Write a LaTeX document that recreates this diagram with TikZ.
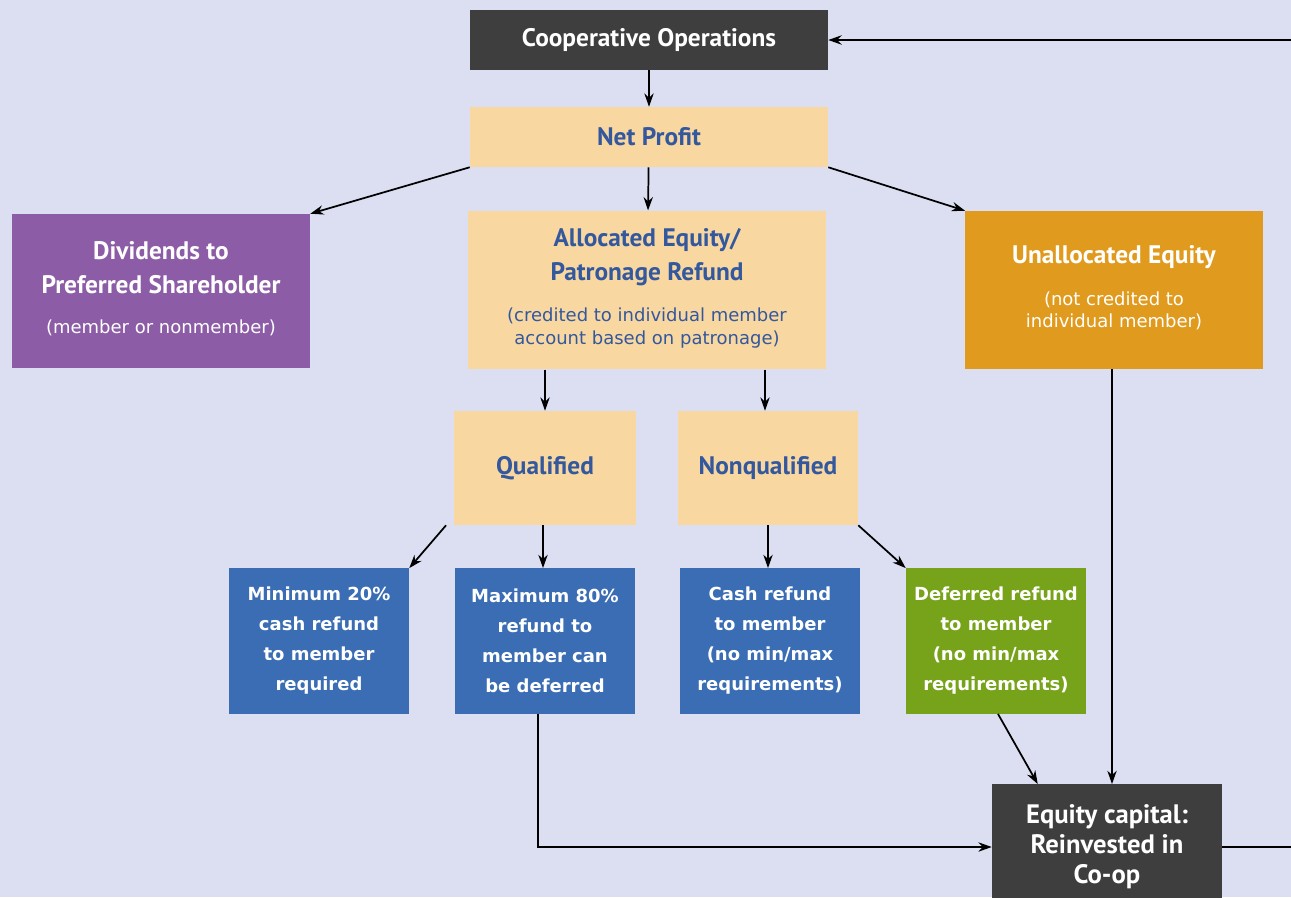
\documentclass[tikz,border=0pt]{standalone}
\usepackage{fontspec}
\setmainfont{PT Sans}
\newfontfamily\widefont{DejaVu Sans}
\usetikzlibrary{arrows.meta}
\definecolor{bgcol}{HTML}{DCDFF1}
\definecolor{opgray}{HTML}{3E3E3E}
\definecolor{peach}{HTML}{F9D7A0}
\definecolor{peachtxt}{HTML}{33589E}
\definecolor{purp}{HTML}{8C5DA6}
\definecolor{orng}{HTML}{E09A1E}
\definecolor{refblue}{HTML}{3A6DB4}
\definecolor{refgreen}{HTML}{77A31B}
\newcommand{\ttl}{\fontsize{19}{25.5}\selectfont\bfseries}
\newcommand{\subtxt}[1]{{\widefont\mdseries\fontsize{13.5}{17}\selectfont\begin{tabular}[t]{@{}c@{}}#1\end{tabular}}}
\tikzset{
  box/.style={rectangle, inner sep=2pt, align=center, font=\ttl},
  opbox/.style={box, fill=opgray, text=white},
  peachbox/.style={box, fill=peach, text=peachtxt},
  purpbox/.style={box, fill=purp, text=white},
  orngbox/.style={box, fill=orng, text=white},
  refbox/.style={box, fill=refblue, text=white, minimum width=135pt, minimum height=109pt,
    font=\widefont\fontsize{13.5}{22.5}\selectfont\bfseries},
  flow/.style={-{Stealth[length=10pt,width=7pt]}, line width=1.3pt, black}
}
\begin{document}
\begin{tikzpicture}[x=0.75pt,y=-0.75pt]
    % Background and frame
    \clip (0,0) rectangle (1291,897);
    \fill[bgcol] (0,0) rectangle (1291,897);
    % Top of the chart
    \node[opbox, minimum width=268.5pt, minimum height=45pt] (coop) at (649,40) {Cooperative Operations};
    \node[peachbox, minimum width=268.5pt, minimum height=45pt] (net) at (649,137) {Net Profit};
    % Second row
    \node[purpbox, minimum width=223.5pt, minimum height=115.5pt] (div) at (161,291)
        {Dividends to\\Preferred Shareholder\\[5pt]\subtxt{(member or nonmember)}};
    \node[peachbox, minimum width=268.5pt, minimum height=119pt] (alloc) at (647,290)
        {Allocated Equity/\\Patronage Refund\\[5pt]\subtxt{(credited to individual member\\account based on patronage)}};
    \node[orngbox, minimum width=223pt, minimum height=118.5pt] (unalloc) at (1114,290)
        {Unallocated Equity\\[6pt]\subtxt{(not credited to\\individual member)}};
    % Qualified / nonqualified
    \node[peachbox, minimum width=136pt, minimum height=85.5pt] (qual) at (545,468) {Qualified};
    \node[peachbox, minimum width=135pt, minimum height=85.5pt] (nonqual) at (768,468) {Nonqualified};
    % Refund boxes
    \node[refbox] (mincash) at (319,641) {Minimum 20\%\\cash refund\\to member\\required};
    \node[refbox] (maxdef) at (545,641) {Maximum 80\%\\refund to\\member can\\be deferred};
    \node[refbox] (cash) at (770,641) {Cash refund\\to member\\(no min/max\\requirements)};
    \node[refbox, fill=refgreen] (deferred) at (996,641) {Deferred refund\\to member\\(no min/max\\requirements)};
    % Bottom
    \node[opbox, minimum width=172.5pt, minimum height=94pt, font=\fontsize{20}{22.5}\selectfont\bfseries] (eqcap) at (1107,847)
        {Equity capital:\\Reinvested in\\Co-op};
    % Connectors
    \draw[flow] (coop) -- (net);
    \draw[flow] (net.south west) -- (div.north east);
    \draw[flow] (net) -- (alloc);
    \draw[flow] (net.south east) -- (unalloc.north west);
    \draw[flow] (qual.north |- alloc.south) -- (qual.north);
    \draw[flow] ([xshift=-2.25pt]nonqual.north |- alloc.south) -- ([xshift=-2.25pt]nonqual.north);
    \draw[flow] ([xshift=-6pt]qual.south west) -- (mincash.north east);
    \draw[flow] ([xshift=-1.5pt]qual.south) -- ([xshift=-1.5pt]maxdef.north);
    \draw[flow] (nonqual.south) -- (nonqual.south |- cash.north);
    \draw[flow] (nonqual.south east) -- (deferred.north west);
    \draw[flow] ([xshift=1.5pt]deferred.south) -- ([xshift=34.5pt]eqcap.north west);
    \draw[flow] ([xshift=-1.5pt]unalloc.south) -- ([xshift=-1.5pt]unalloc.south |- eqcap.north);
    \draw[flow] ([xshift=-5pt]maxdef.south) |- (eqcap.west);
    \draw[flow] (eqcap.east) -- ++(100,0) |- (coop.east);
\end{tikzpicture}
\end{document}
